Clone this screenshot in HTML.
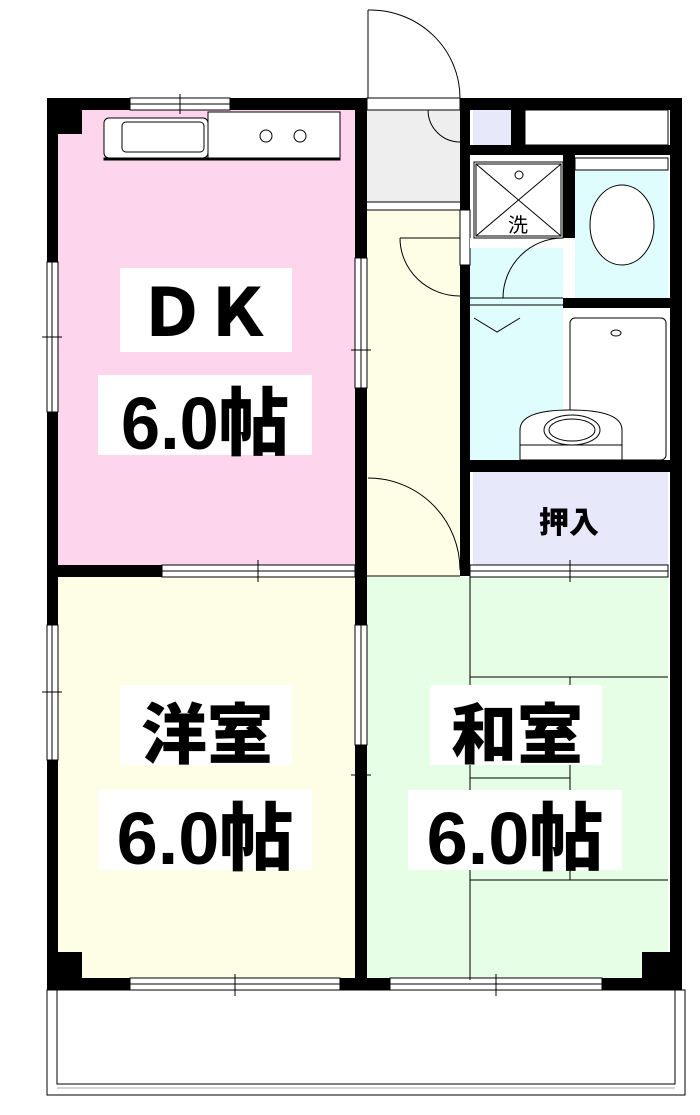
<!DOCTYPE html>
<html><head><meta charset="utf-8"><style>
html,body{margin:0;padding:0;background:#fff;}
svg{display:block;}
text{font-family:"Liberation Sans","Noto Sans CJK JP",sans-serif;font-weight:900;}
</style></head><body>
<svg width="700" height="1115" viewBox="0 0 700 1115" xmlns="http://www.w3.org/2000/svg">
<rect x="57" y="110" width="298" height="456" fill="#fdd5ec"/>
<rect x="57" y="577" width="298" height="403" fill="#fefee6"/>
<rect x="367" y="577" width="301" height="403" fill="#e6fde6"/>
<rect x="367" y="110" width="93" height="92" fill="#eeeeee"/>
<rect x="367" y="210" width="93" height="366" fill="#fefee6"/>
<rect x="470" y="238" width="93" height="222" fill="#e0fdfd"/>
<rect x="575" y="170" width="93" height="130" fill="#e0fdfd"/>
<rect x="473" y="472" width="195" height="93" fill="#e8e8fb"/>
<rect x="473" y="110" width="38" height="36" fill="#e8e8fb"/>
<rect x="525" y="110" width="143" height="35" fill="#fff" stroke="#000" stroke-width="1"/>

<g fill="#000">
<rect x="47" y="98" width="11" height="892"/>
<rect x="47" y="98" width="320" height="12"/>
<rect x="460" y="98" width="222" height="12"/>
<rect x="670" y="98" width="12" height="892"/>
<rect x="47" y="978" width="635" height="12"/>
<rect x="355" y="98" width="12" height="892"/>
<rect x="460" y="98" width="10" height="478"/>
<rect x="460" y="145" width="222" height="10"/>
<rect x="511" y="98" width="14" height="50"/>
<rect x="563" y="155" width="12" height="83"/>
<rect x="563" y="298" width="117" height="10"/>
<rect x="460" y="460" width="222" height="12"/>
<rect x="47" y="565" width="115" height="12"/>
<rect x="47" y="98" width="35" height="36"/>
<rect x="47" y="952" width="35" height="38"/>
<rect x="642" y="952" width="40" height="38"/>
</g>
<g fill="#fff" stroke="#000" stroke-width="1">
<rect x="130" y="98" width="100" height="12"/>
<rect x="47" y="262" width="11" height="150"/>
<rect x="47" y="625" width="11" height="135"/>
<rect x="355" y="258" width="12" height="130"/>
<rect x="355" y="625" width="12" height="120"/>
<rect x="162" y="565" width="193" height="12"/>
<rect x="470" y="565" width="198" height="12"/>
<rect x="130" y="978" width="210" height="12"/>
<rect x="390" y="978" width="212" height="12"/>
<rect x="367" y="98" width="93" height="12"/>
<rect x="460" y="210" width="10" height="55"/>
<rect x="470" y="238" width="93" height="10" stroke-width="0"/>
</g>
<g stroke="#000" stroke-width="1" fill="none">
<line x1="130" y1="104" x2="230" y2="104"/><line x1="180" y1="94" x2="180" y2="114"/>
<line x1="52" y1="262" x2="52" y2="412"/><line x1="42" y1="337" x2="62" y2="337"/>
<line x1="52" y1="625" x2="52" y2="760"/><line x1="42" y1="692" x2="62" y2="692"/>
<line x1="361" y1="258" x2="361" y2="388"/><line x1="351" y1="350" x2="371" y2="350"/>
<line x1="361" y1="625" x2="361" y2="745"/><line x1="351" y1="775" x2="371" y2="775"/>
<line x1="162" y1="571" x2="355" y2="571"/><line x1="258" y1="560" x2="258" y2="582"/>
<line x1="470" y1="571" x2="668" y2="571"/><line x1="570" y1="560" x2="570" y2="582"/>
<line x1="130" y1="984" x2="340" y2="984"/><line x1="235" y1="974" x2="235" y2="996"/>
<line x1="390" y1="984" x2="602" y2="984"/><line x1="496" y1="974" x2="496" y2="996"/>
<line x1="367" y1="576" x2="460" y2="576"/>
<line x1="470" y1="577" x2="470" y2="980"/>
<line x1="470" y1="677" x2="668" y2="677"/>
<line x1="470" y1="880" x2="668" y2="880"/>
<line x1="570" y1="677" x2="570" y2="880"/>
<line x1="470" y1="778" x2="570" y2="778"/>
<line x1="367" y1="202" x2="460" y2="202"/><line x1="367" y1="210" x2="460" y2="210"/>
<line x1="368" y1="10" x2="368" y2="98"/>
<path d="M368 10 A90 88 0 0 1 460 98"/>
<path d="M428 110 A32 32 0 0 0 460 142"/>
<path d="M400 238 L460 238"/><path d="M400 238 A60 58 0 0 0 460 296"/>
<path d="M368 478 A92 92 0 0 1 460 570"/>
<path d="M563 238 A60 60 0 0 0 503 298"/>
<line x1="470" y1="298" x2="563" y2="298"/><line x1="470" y1="305" x2="563" y2="305"/>
<path d="M474 318 L497 332 L520 318"/>
<rect x="104" y="118" width="104" height="40" rx="5" fill="#fff"/>
<rect x="122" y="122" width="82" height="30" rx="4"/>
<rect x="104" y="158" width="236" height="2" fill="#000"/>
<rect x="208" y="112" width="132" height="46" fill="#fff"/>
<circle cx="266" cy="136" r="6"/><circle cx="300" cy="136" r="6"/>
<rect x="474" y="162" width="89" height="76" fill="#fff"/>
<rect x="476" y="164" width="85" height="72"/>
<line x1="476" y1="164" x2="561" y2="236"/><line x1="561" y1="164" x2="476" y2="236"/>
<circle cx="519" cy="175" r="4"/>
<rect x="575" y="158" width="93" height="12" fill="#fff"/>
<ellipse cx="622" cy="225" rx="32" ry="40" fill="#fff"/>
<rect x="570" y="318" width="96" height="142" rx="5" fill="#fff"/>
<ellipse cx="616" cy="333" rx="5" ry="3"/>
<path d="M520 460 L520 430 Q520 410 570 410 Q622 410 622 430 L622 460 Z" fill="#fff"/>
<ellipse cx="572" cy="430" rx="28" ry="15"/><ellipse cx="572" cy="430" rx="23" ry="11"/>
<line x1="520" y1="445" x2="622" y2="445"/>
<rect x="47" y="990" width="638" height="105"/>
<rect x="57" y="990" width="618" height="94"/>
<line x1="57" y1="1088" x2="675" y2="1088" stroke="#aaa"/>
</g>
<text x="508" y="232" font-size="20" style="font-weight:400">洗</text>
<g fill="#fff">
<rect x="120" y="268" width="172" height="84"/>
<rect x="98" y="375" width="214" height="80"/>
<rect x="120" y="685" width="172" height="80"/>
<rect x="98" y="790" width="214" height="80"/>
<rect x="430" y="685" width="172" height="80"/>
<rect x="408" y="790" width="214" height="80"/>
</g>
<g font-size="66" text-anchor="middle" fill="#000">
<text x="205" y="336">ＤＫ</text>
<text x="205" y="449" font-size="74" transform="translate(205 0) scale(0.95 1) translate(-205 0)">6.0帖</text>
<text x="207" y="758">洋室</text>
<text x="205" y="864" font-size="74">6.0帖</text>
<text x="517" y="758">和室</text>
<text x="515" y="864" font-size="74">6.0帖</text>
</g>
<text x="569" y="533" font-size="30" text-anchor="middle">押入</text>
</svg>
</body></html>
